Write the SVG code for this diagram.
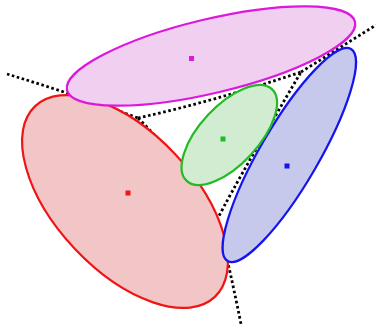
<svg xmlns="http://www.w3.org/2000/svg" width="376" height="324" viewBox="0 0 376 324">
<style>
.bis{fill:none;stroke:#000;stroke-width:2.8;stroke-dasharray:2.6 2.6}
.e{stroke-width:2.2}
.c{stroke:none}
</style>
<rect width="376" height="324" fill="#fff"/>
<g id="connectors">
<path class="bis" d="M7,74 Q70,93 138,118"/>
<path class="bis" d="M138,118 Q215,101 301,72"/>
<path class="bis" d="M138,118 Q190,170 217,220"/>
<path class="bis" d="M301,72 L376,25"/>
<path class="bis" d="M217,220 Q226,250 241,324"/>
<path class="bis" d="M217,220 C233,188 270,125 301,72"/>
</g>
<g id="red">
<ellipse class="e" cx="125" cy="201.5" rx="131" ry="69" transform="rotate(46.7 125 201.5)" fill="#f2c6c6" stroke="#f01414"/>
<rect class="c" x="125.5" y="190.5" width="5" height="5" fill="#f01414"/>
</g>
<g id="blue">
<ellipse class="e" cx="289.3" cy="155" rx="122.7" ry="29.2" transform="rotate(-59.8 289.3 155)" fill="#c6c8ec" stroke="#1414ee"/>
<rect class="c" x="284.5" y="163.5" width="5" height="5" fill="#1414ee"/>
</g>
<g id="green">
<ellipse class="e" cx="229.3" cy="135" rx="62.6" ry="29.2" transform="rotate(-47.1 229.3 135)" fill="#d2ecd2" stroke="#22bb22"/>
<rect class="c" x="220.5" y="136.5" width="5" height="5" fill="#22bb22"/>
</g>
<g id="magenta">
<ellipse class="e" cx="211" cy="56" rx="148" ry="37" transform="rotate(-13.4 211 56)" fill="#f0cff0" stroke="#dd18dd"/>
<rect class="c" x="189" y="56" width="5" height="5" fill="#dd18dd"/>
</g>
</svg>
